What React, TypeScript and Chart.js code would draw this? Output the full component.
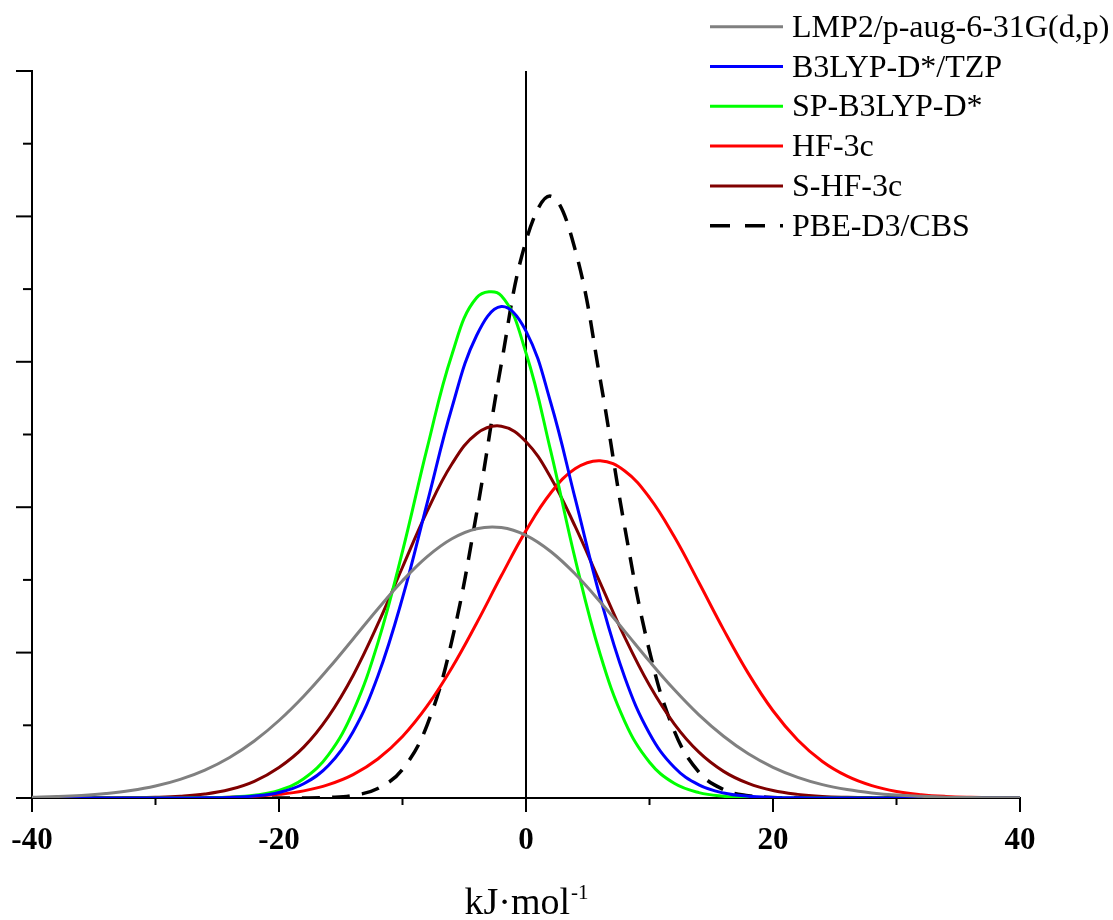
import React, { useEffect, useRef } from "react";
import { Chart, registerables } from "chart.js";

Chart.register(...registerables);

// x positions (kJ·mol-1)
const xValues = [
  -40, -38, -36, -34, -32, -30, -28, -26, -24, -22,
  -20, -18, -16, -14, -12, -10, -8, -6, -4, -2,
  0,
  2, 4, 6, 8, 10, 12, 14, 16, 18, 20,
  22, 24, 26, 28, 30, 32, 34, 36, 38, 40,
];

const lmp2 = [
  0.005, 0.010, 0.018, 0.031, 0.051, 0.082, 0.128, 0.192, 0.279, 0.392,
  0.533, 0.700, 0.890, 1.094, 1.300, 1.494, 1.660, 1.783, 1.852, 1.860,
  1.806,
  1.695, 1.539, 1.350, 1.146, 0.940, 0.746, 0.572, 0.425, 0.304, 0.211,
  0.142, 0.092, 0.058, 0.035, 0.020, 0.012, 0.006, 0.003, 0.002, 0.001,
];

const b3lyp = [
  0, 0, 0, 0, 0, 0, 0.0003, 0.001, 0.004, 0.014,
  0.038, 0.098, 0.223, 0.456, 0.837, 1.376, 2.030, 2.684, 3.181, 3.380,
  3.211,
  2.720, 2.053, 1.382, 0.829, 0.444, 0.211, 0.090, 0.034, 0.012, 0.004,
  0.001, 0, 0, 0, 0, 0, 0, 0, 0, 0,
];

const spB3lyp = [
  0, 0, 0, 0, 0, 0, 0.0004, 0.002, 0.006, 0.019,
  0.052, 0.132, 0.297, 0.596, 1.065, 1.696, 2.408, 3.049, 3.440, 3.455,
  3.060,
  2.387, 1.638, 0.990, 0.526, 0.246, 0.101, 0.037, 0.012, 0.003, 0.001,
  0, 0, 0, 0, 0, 0, 0, 0, 0, 0,
];

const hf3c = [
  0, 0, 0, 0, 0.0001, 0.0004, 0.001, 0.002, 0.006, 0.012,
  0.025, 0.049, 0.092, 0.161, 0.268, 0.423, 0.633, 0.896, 1.202, 1.528,
  1.839,
  2.098, 2.266, 2.320, 2.249, 2.066, 1.798, 1.482, 1.158, 0.857, 0.600,
  0.399, 0.251, 0.150, 0.085, 0.045, 0.023, 0.011, 0.005, 0.002, 0.001,
];

const sHf3c = [
  0, 0, 0.0002, 0.0007, 0.002, 0.005, 0.012, 0.027, 0.058, 0.115,
  0.210, 0.350, 0.560, 0.843, 1.195, 1.587, 1.973, 2.297, 2.505, 2.557,
  2.450,
  2.205, 1.864, 1.481, 1.105, 0.775, 0.510, 0.315, 0.183, 0.100, 0.051,
  0.025, 0.011, 0.005, 0.002, 0.001, 0, 0, 0, 0, 0,
];

const pbeD3 = [
  0, 0, 0, 0, 0, 0, 0, 0, 0, 0,
  0, 0, 0.004, 0.018, 0.065, 0.197, 0.503, 1.082, 1.958, 2.985,
  3.831,
  4.139, 3.765, 2.884, 1.860, 1.010, 0.462, 0.178, 0.058, 0.016, 0.004,
  0.001, 0, 0, 0, 0, 0, 0, 0, 0, 0,
];

const seriesLabels = [
  "LMP2/p-aug-6-31G(d,p)",
  "B3LYP-D*/TZP",
  "SP-B3LYP-D*",
  "HF-3c",
  "S-HF-3c",
  "PBE-D3/CBS",
];
const seriesValues = [lmp2, b3lyp, spB3lyp, hf3c, sHf3c, pbeD3];
const seriesColors = ["#808080", "#0000ff", "#00ff00", "#ff0000", "#800000", "#000000"];
const seriesDashed = [false, false, false, false, false, true];

const xMajorTicks = [-40, -20, 0, 20, 40];
const xMinorTicks = [-30, -10, 10, 30];
const yMajorTicks = [0, 1, 2, 3, 4, 5];
const yMinorTicks = [0.5, 1.5, 2.5, 3.5, 4.5];
const xTitleMain = "kJ·mol";
const xTitleSup = "-1";

const SERIF = '"Times New Roman", "Liberation Serif", serif';

function strokeLine(ctx: CanvasRenderingContext2D, x1: number, y1: number, x2: number, y2: number) {
  ctx.beginPath();
  ctx.moveTo(x1, y1);
  ctx.lineTo(x2, y2);
  ctx.stroke();
}

const axesPlugin = {
  id: "customAxes",
  beforeDatasetsDraw(chart: any) {
    const { ctx, chartArea, scales } = chart;
    const { left, right, top, bottom } = chartArea;
    const xs = scales.x;
    const ys = scales.y;
    ctx.save();
    ctx.strokeStyle = "#000";
    ctx.lineWidth = 2;
    ctx.lineCap = "butt";
    const x0 = xs.getPixelForValue(0);
    strokeLine(ctx, x0, top, x0, bottom);
    strokeLine(ctx, left, top - 1, left, bottom + 1);
    strokeLine(ctx, left - 1, bottom, right + 1, bottom);
    yMajorTicks.forEach((v) => {
      const py = ys.getPixelForValue(v);
      strokeLine(ctx, left - 16, py, left, py);
    });
    yMinorTicks.forEach((v) => {
      const py = ys.getPixelForValue(v);
      strokeLine(ctx, left - 9, py, left, py);
    });
    xMajorTicks.forEach((v) => {
      const px = xs.getPixelForValue(v);
      strokeLine(ctx, px, bottom, px, bottom + 14);
    });
    xMinorTicks.forEach((v) => {
      const px = xs.getPixelForValue(v);
      strokeLine(ctx, px, bottom, px, bottom + 7);
    });
    ctx.restore();
  },
  afterDraw(chart: any) {
    const { ctx, chartArea, scales } = chart;
    const { bottom } = chartArea;
    const xs = scales.x;
    ctx.save();
    ctx.fillStyle = "#000";
    ctx.font = `bold 31px ${SERIF}`;
    ctx.textAlign = "center";
    ctx.textBaseline = "alphabetic";
    xMajorTicks.forEach((v) => {
      ctx.fillText(String(v), xs.getPixelForValue(v), bottom + 51);
    });
    ctx.font = `38px ${SERIF}`;
    const wMain = ctx.measureText(xTitleMain).width;
    ctx.font = `21px ${SERIF}`;
    const wSup = ctx.measureText(xTitleSup).width;
    const cx = xs.getPixelForValue(0);
    const startX = cx - (wMain + wSup) / 2;
    ctx.textAlign = "left";
    ctx.font = `38px ${SERIF}`;
    ctx.fillText(xTitleMain, startX, bottom + 116);
    ctx.font = `21px ${SERIF}`;
    ctx.fillText(xTitleSup, startX + wMain + 1, bottom + 101);
    const lx1 = 710;
    const lx2 = 783;
    const tx = 792;
    const row0 = 26.7;
    const rowStep = 39.8;
    seriesLabels.forEach((label, i) => {
      const ry = row0 + i * rowStep;
      ctx.save();
      ctx.strokeStyle = seriesColors[i];
      ctx.lineWidth = seriesDashed[i] ? 3.5 : 3;
      ctx.setLineDash(seriesDashed[i] ? [20, 15] : []);
      strokeLine(ctx, lx1, ry, lx2, ry);
      ctx.restore();
      ctx.font = `32px ${SERIF}`;
      ctx.fillStyle = "#000";
      ctx.textAlign = "left";
      ctx.fillText(label, tx, ry + 10);
    });
    ctx.restore();
  },
};

export default function App() {
  const canvasRef = useRef<HTMLCanvasElement | null>(null);

  useEffect(() => {
    const canvas = canvasRef.current;
    if (!canvas) return;
    const datasets = seriesLabels.map((label, i) => ({
      label,
      data: xValues.map((x, j) => ({ x, y: seriesValues[i][j] })),
      borderColor: seriesColors[i],
      backgroundColor: seriesColors[i],
      borderWidth: seriesDashed[i] ? 3.5 : 3,
      borderDash: seriesDashed[i] ? [18, 12] : [],
      pointRadius: 0,
      pointHoverRadius: 0,
      fill: false,
      tension: 0.4,
    }));
    const chart = new Chart(canvas, {
      type: "line",
      data: { datasets },
      options: {
        animation: false,
        responsive: false,
        devicePixelRatio: 1,
        layout: { padding: { left: 32, right: 93, top: 71, bottom: 122 } },
        plugins: {
          legend: { display: false },
          tooltip: { enabled: false },
          title: { display: false },
        },
        scales: {
          x: { type: "linear", min: -40, max: 40, display: false },
          y: { type: "linear", min: 0, max: 5, display: false },
        },
      },
      plugins: [axesPlugin],
    });
    return () => chart.destroy();
  }, []);

  return (
    <div style={{ position: "absolute", left: 0, top: 0, width: 1113, height: 920, background: "#fff" }}>
      <canvas ref={canvasRef} width={1113} height={920} />
    </div>
  );
}
